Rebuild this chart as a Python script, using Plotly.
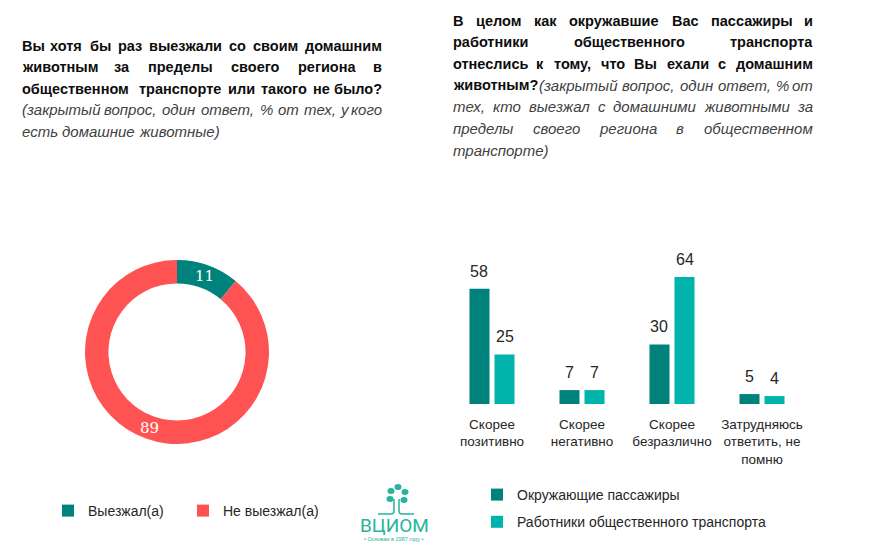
import math
import plotly.graph_objects as go

# ---------------- data ----------------
PIE_LABELS = ["Выезжал(а)", "Не выезжал(а)"]
PIE_VALUES = [11, 89]

CATEGORIES = ["Скорее<br>позитивно", "Скорее<br>негативно", "Скорее<br>безразлично",
              "Затрудняюсь<br>ответить, не<br>помню"]
SERIES_NAMES = ["Окружающие пассажиры", "Работники общественного транспорта"]
PASSENGERS = [58, 7, 30, 5]
STAFF = [25, 7, 64, 4]

LEFT_TITLE_LINES = [
    ("Вы хотя бы раз выезжали со своим домашним", "", True),
    ("животным за пределы своего региона в", "", True),
    ("общественном транспорте или такого не было?", "", True),
    ("", "(закрытый вопрос, один ответ, % от тех, у кого", True),
    ("", "есть домашние животные)", False),
]
RIGHT_TITLE_LINES = [
    ("В целом как окружавшие Вас пассажиры и", "", True),
    ("работники общественного транспорта", "", True),
    ("отнеслись к тому, что Вы ехали с домашним", "", True),
    ("животным?", "(закрытый вопрос, один ответ, % от", True),
    ("", "тех, кто выезжал с домашними животными за", True),
    ("", "пределы своего региона в общественном", True),
    ("", "транспорте)", False),
]

# ---------------- style ----------------
W, H = 886, 552
TEAL = "#00827C"
LIGHT = "#00B3AB"
RED = "#FF5252"
LOGO = "#27B49B"
TXT = "#262626"
BOLD_C = "#0D0D0D"
ITAL_C = "#3F3F3F"
FONT = "Liberation Sans, Arial, sans-serif"
CAL_SIZE = 15
BOLD_SIZE = 14.5
ITAL_SIZE = 15

CW = {'а': .556, 'б': .573, 'в': .531, 'г': .365, 'д': .574, 'е': .556, 'ж': .677, 'з': .457,
      'и': .56, 'й': .56, 'к': .436, 'л': .56, 'м': .677, 'н': .552, 'о': .556, 'п': .552,
      'р': .556, 'с': .5, 'т': .461, 'у': .5, 'ф': .823, 'х': .5, 'ц': .569, 'ч': .521,
      'ш': .805, 'щ': .818, 'ъ': .628, 'ы': .721, 'ь': .521, 'э': .51, 'ю': .75, 'я': .54,
      'В': .667, ' ': .278, ',': .278, '.': .278, '?': .556, '(': .333, ')': .333, '%': .889}
ITALIC_OVERRIDE = {'т': .833}   # italic cyrillic "т" is drawn m-shaped
FACTOR = {'b': 1.1, 'i': 1.09}
BOLD_REL = 1.07                 # bold vs italic proportion inside mixed lines
# per-line corrections (px, at CAL_SIZE) of the estimated text width, for justification
LEFT_FIX = [6, 2, -5, 1, 4]
RIGHT_FIX = [8, 5, 3, 0, 12, 17, -4]


def px_x(x):
    return x / W


def px_y(y):
    return 1 - y / H


def est_w(t, st, italic_forms):
    table = dict(CW)
    if st == 'i' and italic_forms:
        table.update(ITALIC_OVERRIDE)
    return sum(table.get(c, .556) for c in t) * CAL_SIZE * FACTOR[st]


annotations = []


def text_line(bold, ital, y, x0, x1, justify, fix):
    words = [(w, 'b') for w in bold.split()] + [(w, 'i') for w in ital.split()]
    n = len(words) - 1
    pieces = [(w if i == 0 else " " + w, s) for i, (w, s) in enumerate(words)]
    # calibrated natural width at CAL_SIZE, then rescaled to the sizes used
    b_old = sum(est_w(p, s, False) for p, s in pieces if s == 'b')
    i_old = sum(est_w(p, s, False) for p, s in pieces if s == 'i')
    actual_cal = b_old + i_old - fix
    actual = actual_cal * (b_old * BOLD_SIZE / CAL_SIZE + i_old) / (b_old + i_old)
    # relative word widths with the italic letter forms
    bk = BOLD_SIZE / CAL_SIZE * BOLD_REL
    rel = [(est_w(w, s, True) * (bk if s == 'b' else 1),
            est_w(" ", s, True) * (bk if s == 'b' else 1)) for w, s in words]
    total_rel = sum(a for a, _ in rel) + sum(b for _, b in rel[1:])
    scale = actual / total_rel
    ws = (x1 - x0 - actual) / n if (justify and n) else 0
    cur = x0
    for i, ((w, s), (wr, sr)) in enumerate(zip(words, rel)):
        if i > 0:
            cur += sr * scale + ws
        wd = wr * scale
        if i == 0:
            xa, xp = "left", cur
        elif i == n and justify:
            xa, xp = "right", x1
        else:
            xa, xp = "center", cur + wd / 2
        annotations.append(dict(
            text=(f"<b>{w}</b>" if s == 'b' else f"<i>{w}</i>"),
            x=px_x(xp), y=px_y(y), xref="paper", yref="paper",
            xanchor=xa, yanchor="middle", showarrow=False, borderpad=0,
            font=dict(family=FONT, size=BOLD_SIZE if s == 'b' else ITAL_SIZE,
                      color=BOLD_C if s == 'b' else ITAL_C)))
        cur += wd


for i, (b, it, j) in enumerate(LEFT_TITLE_LINES):
    text_line(b, it, 46 + i * 21.3, 21, 383, j, LEFT_FIX[i])
for i, (b, it, j) in enumerate(RIGHT_TITLE_LINES):
    text_line(b, it, 21 + i * 21.5, 452, 814, j, RIGHT_FIX[i])

# ---------------- traces ----------------
fig = go.Figure()

cx, cy, r, hole = 177, 352, 92, 0.745
fig.add_trace(go.Pie(
    labels=PIE_LABELS, values=PIE_VALUES, hole=hole, sort=False, direction="clockwise", rotation=0,
    marker=dict(colors=[TEAL, RED], line=dict(width=0)),
    textinfo="none",
    domain=dict(x=[px_x(cx - r), px_x(cx + r)], y=[px_y(cy + r), px_y(cy - r)]),
    legend="legend", hoverinfo="label+value",
))

# slice value labels at the middle of each ring segment (derived from the values)
total = sum(PIE_VALUES)
acc = 0
rm = r * (1 + hole) / 2
for v in PIE_VALUES:
    mid = (acc + v / 2) / total * 2 * math.pi
    acc += v
    annotations.append(dict(text=str(v), x=px_x(cx + rm * math.sin(mid)), y=px_y(cy - rm * math.cos(mid)),
                            xref="paper", yref="paper", showarrow=False, xanchor="center", yanchor="middle",
                            font=dict(family="DejaVu Serif, serif", size=15, color="white")))

BARGAP, GROUPGAP = 0.444, 0.2
series = [(SERIES_NAMES[0], PASSENGERS, TEAL, "a"), (SERIES_NAMES[1], STAFF, LIGHT, "b")]
for name, vals, col, grp in series:
    fig.add_trace(go.Bar(
        x=CATEGORIES, y=vals, name=name, marker=dict(color=col, line=dict(width=0)),
        textposition="none", cliponaxis=False, legend="legend2", legendgroup=grp,
    ))

# bar plot geometry
X0_PX, X1_PX = 447, 807
base_px, top_px, unit_px = 404, 248, 1.985
ymax = (base_px - top_px) / unit_px

# value labels above each bar, anchored in data coordinates
step_px = (X1_PX - X0_PX) / len(CATEGORIES)
slot_px = step_px * (1 - BARGAP) / len(series)
for k, (name, vals, col, grp) in enumerate(series):
    off = (k - (len(series) - 1) / 2) * slot_px
    for c, v in zip(CATEGORIES, vals):
        annotations.append(dict(text=str(v), x=c, y=v, xref="x", yref="y", xshift=off, yshift=7,
                                xanchor="center", yanchor="bottom", showarrow=False,
                                font=dict(family=FONT, size=16, color=TXT)))

# ---------------- logo ----------------
shapes = []
for (lx, ly) in [(398, 487), (391, 491), (405, 492), (390, 499), (404, 500)]:
    shapes.append(dict(type="circle", xref="paper", yref="paper",
                       x0=px_x(lx - 3.5), x1=px_x(lx + 3.5), y0=px_y(ly + 3), y1=px_y(ly - 3),
                       fillcolor=LOGO, line=dict(width=0)))
for path in [
    f"M {px_x(394)} {px_y(499)} L {px_x(394)} {px_y(511)} Q {px_x(394)} {px_y(514)} {px_x(391)} {px_y(514)} L {px_x(378)} {px_y(514)}",
    f"M {px_x(399)} {px_y(499)} L {px_x(399)} {px_y(511)} Q {px_x(399)} {px_y(514)} {px_x(402)} {px_y(514)} L {px_x(414)} {px_y(514)}",
]:
    shapes.append(dict(type="path", xref="paper", yref="paper", path=path,
                       line=dict(color=LOGO, width=1.5)))

annotations.append(dict(text="ВЦИОМ", x=px_x(394), y=px_y(525), xref="paper", yref="paper",
                        showarrow=False, xanchor="center", yanchor="middle",
                        font=dict(family="Roboto, sans-serif", size=19, color=LOGO, weight=400)))
annotations.append(dict(text="• Основан в 1987 году •", x=px_x(394), y=px_y(539), xref="paper", yref="paper",
                        showarrow=False, xanchor="center", yanchor="middle",
                        font=dict(family=FONT, size=5.5, color=LOGO)))

fig.update_layout(
    width=W, height=H, margin=dict(l=0, r=0, t=0, b=0),
    paper_bgcolor="white", plot_bgcolor="white",
    font=dict(family=FONT, color=TXT),
    barmode="group", bargap=BARGAP, bargroupgap=GROUPGAP,
    xaxis=dict(domain=[px_x(X0_PX), px_x(X1_PX)], showgrid=False, showline=False, zeroline=False,
               ticks="", tickfont=dict(size=13.5, color=TXT), ticklabelstandoff=10, fixedrange=True),
    yaxis=dict(domain=[px_y(base_px), px_y(top_px)], range=[0, ymax], visible=False, fixedrange=True),
    legend=dict(orientation="h", x=px_x(48), y=px_y(511), xanchor="left", yanchor="middle",
                font=dict(size=14, color=TXT), entrywidth=90, entrywidthmode="pixels",
                bgcolor="rgba(0,0,0,0)"),
    legend2=dict(orientation="v", x=px_x(477), y=px_y(479), xanchor="left", yanchor="top",
                 font=dict(size=14, color=TXT), tracegroupgap=6, traceorder="grouped",
                 bgcolor="rgba(0,0,0,0)"),
    annotations=annotations, shapes=shapes,
    showlegend=True,
)

fig.write_html("out.html", config={"displayModeBar": False},
               post_script="document.body.style.margin='0';document.body.style.overflow='hidden';")
